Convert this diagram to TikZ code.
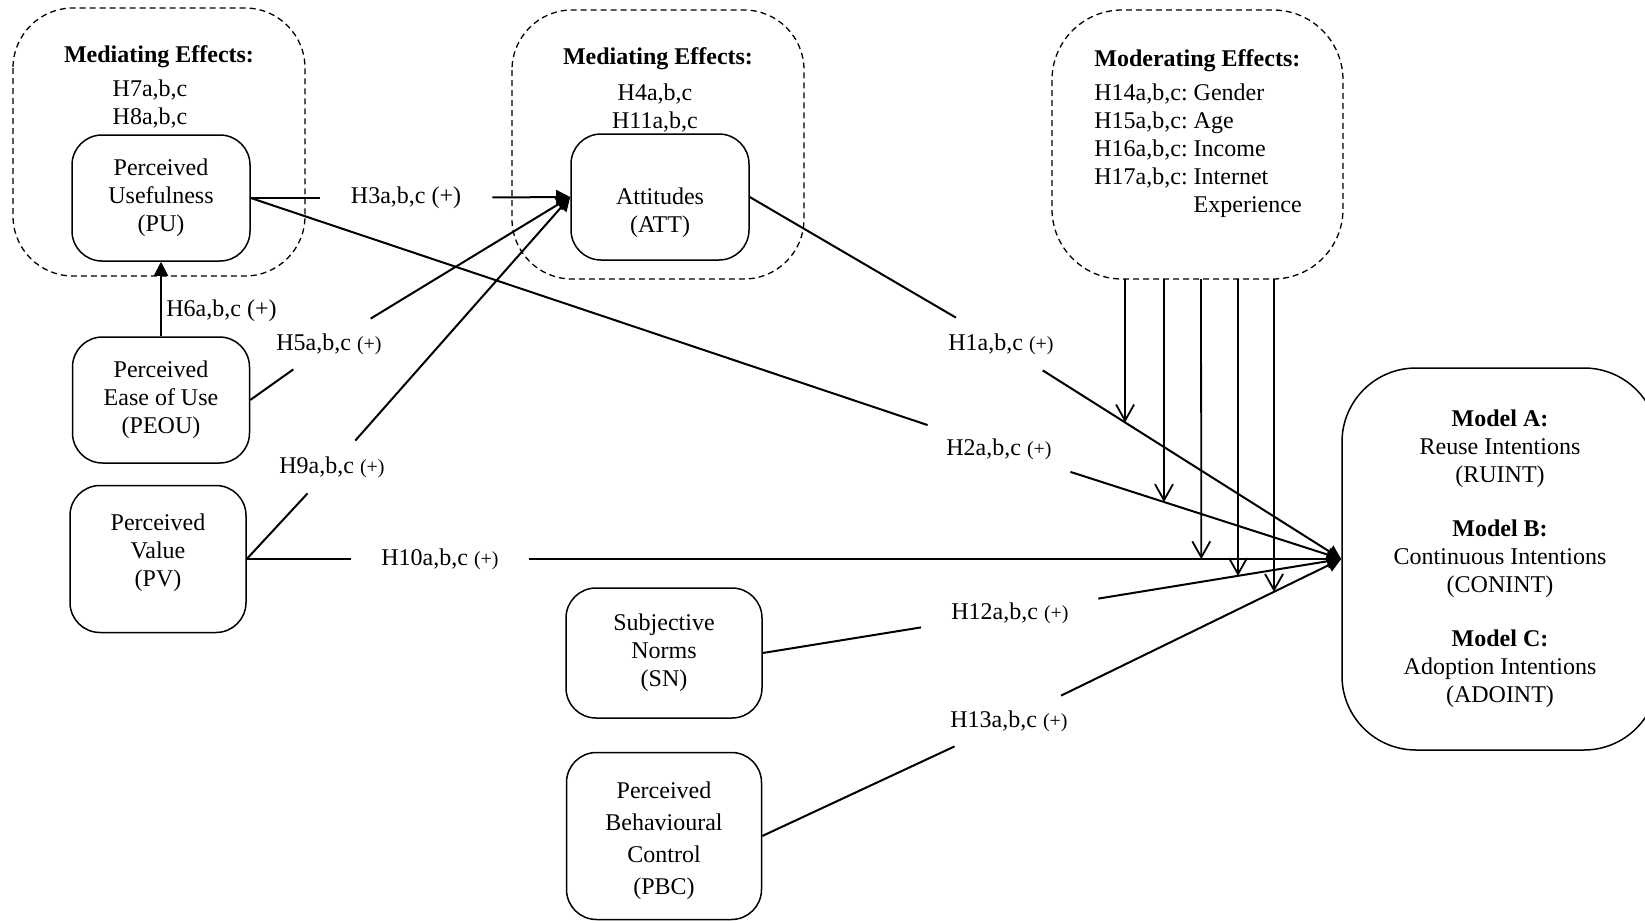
\documentclass[tikz,border=0pt]{standalone}
\usepackage{fontspec}
\setmainfont{Liberation Serif}
\frenchspacing
\usetikzlibrary{arrows.meta}
\newcommand{\hplus}{{\fontsize{10}{12}\selectfont(+)}}
\tikzset{
  box/.style={draw, line width=0.75pt, rounded corners=15pt, align=center, inner sep=0pt},
  grp/.style={draw, dash pattern=on 3pt off 2pt, line width=0.65pt},
  lbl/.style={inner sep=0pt, align=center},
  link/.style={line width=1pt},
  arr/.style={link, -{Triangle[length=7pt,width=7pt]}},
  modarr/.style={line width=0.9pt, -{Straight Barb[length=8pt,width=9pt]}}
}

\begin{document}
\begin{tikzpicture}[x=0.5pt, y=-0.5pt, font=\fontsize{12}{14}\selectfont]
\clip (0,0) rectangle (1645,922);
\draw[grp, rounded corners=30pt] (13,8) rectangle (305,276);
\draw[grp, rounded corners=30pt] (512,10) rectangle (804,279);
\draw[grp, rounded corners=35pt] (1052,10) rectangle (1343,279);
\node[lbl] (med1) at (159,57) {\textbf{Mediating Effects:}};
\node[lbl] (h78) at (150,104) {H7a,b,c\\H8a,b,c};
\node[lbl] (med2) at (658,59) {\textbf{Mediating Effects:}};
\node[lbl] (h411) at (655,108) {H4a,b,c\\H11a,b,c};
\node[lbl, align=left, anchor=north west] (mod) at (1094,49) {\textbf{Moderating Effects:}\\[3pt]
  H14a,b,c: Gender\\H15a,b,c: Age\\H16a,b,c: Income\\H17a,b,c: Internet\\
  \phantom{H17a,b,c: }Experience};
\node[box, minimum width=89pt, minimum height=63pt] (pu) at (161,198) {Perceived\\Usefulness\\(PU)};
\node[box, minimum width=89pt, minimum height=63pt] (att) at (660,197) {\mbox{}\\[9.9pt]Attitudes\\(ATT)};
\node[box, minimum width=88.5pt, minimum height=63pt] (peou) at (161,400) {Perceived\\Ease of Use\\(PEOU)};
\node[box, minimum width=88pt, minimum height=73.5pt] (pv) at (158,559) {Perceived\\Value\\(PV)\\[-4.7pt]\mbox{}};
\node[box, minimum width=98pt, minimum height=65pt] (sn) at (664,653) {Subjective\\Norms\\(SN)};
\node[box, minimum width=97.5pt, minimum height=83.5pt] (pbc) at (664,836) {\mbox{}\\[-0.6pt]Perceived\\[2pt]Behavioural\\[2pt]Control\\[2pt](PBC)};
\node[box, rounded corners=37pt, minimum width=158pt, minimum height=191pt] (model) at (1500,559)
  {\fontsize{12}{13.8}\selectfont\textbf{Model A:}\\Reuse Intentions\\(RUINT)\\[13pt]\textbf{Model B:}\\Continuous Intentions\\(CONINT)\\[13pt]\textbf{Model C:}\\Adoption Intentions\\(ADOINT)};
\node[lbl, minimum width=86pt, minimum height=14pt] (h3) at (406,198) {H3a,b,c (+)};
\node[lbl, anchor=west] (h6) at (166,311) {H6a,b,c (+)};
\node[lbl, minimum width=55pt, minimum height=25pt] (h5) at (329,344) {H5a,b,c \hplus};
\node[lbl, minimum height=26pt] (h9) at (332,467) {H9a,b,c \hplus};
\node[lbl, minimum width=89pt, minimum height=14pt] (h10) at (440,559) {H10a,b,c \hplus};
\node[lbl, minimum height=26pt] (h1) at (1001,344) {H1a,b,c \hplus};
\node[lbl, minimum width=71pt, minimum height=24pt] (h2) at (999,449) {H2a,b,c \hplus};
\node[lbl, minimum width=91pt, minimum height=14pt] (h12) at (1010,613) {H12a,b,c \hplus};
\node[lbl, minimum height=25pt] (h13) at (1009,721) {H13a,b,c \hplus};
\draw[arr] (peou) -- (pu);
\draw[link] (pu.east) -- (h3);
\draw[arr] (h3) -- (att.west);
\draw[link] (peou.east) -- (h5);
\draw[arr] (h5) -- (att.west);
\draw[link] (pv.east) -- (h9);
\draw[arr] (h9) -- (att.west);
\draw[link] (pv.east) -- (h10);
\draw[arr] (h10) -- (model.west);
\draw[link] (pu.east) -- (h2);
\draw[arr] (h2) -- (model.west);
\draw[link] (att.east) -- (h1);
\draw[arr] (h1) -- (model.west);
\draw[link] (sn.east) -- (h12);
\draw[arr] (h12) -- (model.west);
\draw[link] (pbc.east) -- (h13);
\draw[arr] (h13) -- (model.west);
\foreach \mx/\src [count=\i] in {1125/h1, 1164/h2, 1201/h10, 1238/h12, 1274/h13} {
  \coordinate (m\i) at (\mx,279);
  \coordinate (n\i) at (\mx,900);
  \draw[modarr] (m\i) -- (intersection cs: first line={(m\i)--(n\i)}, second line={(\src)--(model.west)});
}
\end{tikzpicture}
\end{document}
